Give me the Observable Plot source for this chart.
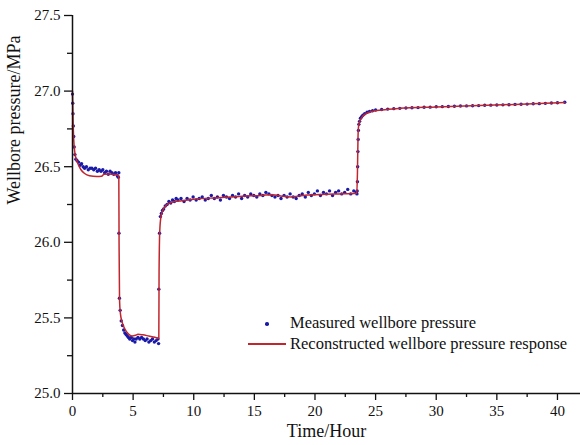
<!DOCTYPE html>
<html>
<head>
<meta charset="utf-8">
<script src="https://cdn.jsdelivr.net/npm/d3@7"></script>
<script src="https://cdn.jsdelivr.net/npm/@observablehq/plot@0.6"></script>
<style>
  html, body { margin: 0; padding: 0; background: #fff; }
  #wrap { position: relative; width: 580px; height: 445px; font-family: "Liberation Serif", "Times New Roman", serif; }
  .leg { position: absolute; font-size: 16.5px; color: #111; white-space: nowrap; line-height: 1; }
</style>
</head>
<body>
<div id="wrap"></div>
<script>
// ---- Data ----
const measTime = [
  0.00,0.02,0.04,0.07,0.10,0.14,0.20,0.28,0.38,0.50,0.62,0.75,0.88,1.00,1.15,1.30,1.45,1.60,1.75,1.90,
  2.05,2.20,2.35,2.50,2.65,2.80,2.95,3.10,3.25,3.40,3.55,3.70,3.78,3.82,
  3.83,3.87,3.93,4.02,4.12,4.22,4.32,4.42,4.52,4.62,4.72,4.85,4.95,5.05,5.15,5.25,5.40,5.55,5.70,5.85,
  6.00,6.15,6.30,6.45,6.60,6.75,6.90,7.05,7.10,
  7.12,7.18,7.25,7.33,7.42,7.52,7.65,7.80,7.95,8.10,8.25,8.40,8.55,
  8.70,8.95,9.20,9.45,9.70,9.95,10.20,10.45,10.70,10.95,11.20,11.45,11.70,11.95,12.20,12.45,12.70,12.95,
  13.20,13.45,13.70,13.95,14.20,14.45,14.70,14.95,15.20,15.45,15.70,15.95,16.20,16.45,16.70,16.95,
  17.20,17.45,17.70,17.95,18.20,18.45,18.70,18.95,19.20,19.45,19.70,19.95,20.20,20.45,20.70,20.95,
  21.20,21.45,21.70,21.95,22.20,22.45,22.70,22.95,23.20,23.40,
  23.46,23.48,23.50,23.52,23.54,23.56,23.58,23.62,23.68,23.75,23.85,23.95,24.10,24.30,24.50,24.75,25.00,
  25.50,26.00,26.50,27.00,27.50,28.00,28.50,29.00,29.50,30.00,30.50,31.00,31.50,32.00,32.50,33.00,
  33.50,34.00,34.50,35.00,35.50,36.00,36.50,37.00,37.50,38.00,38.50,39.00,39.50,40.00,40.60
];
const measPressure = [
  26.98,26.92,26.85,26.77,26.70,26.63,26.58,26.55,26.54,26.53,26.51,26.52,26.50,26.49,26.50,26.48,26.49,26.49,26.48,26.49,
  26.47,26.48,26.47,26.48,26.46,26.47,26.45,26.47,26.46,26.45,26.46,26.44,26.43,26.46,
  26.06,25.63,25.55,25.48,25.45,25.42,25.40,25.39,25.38,25.37,25.36,25.37,25.35,25.36,25.34,25.36,25.37,25.36,25.37,25.36,
  25.35,25.36,25.34,25.35,25.36,25.34,25.35,25.36,25.33,
  25.69,26.06,26.17,26.19,26.21,26.22,26.24,26.25,26.27,26.26,26.28,26.27,26.29,
  26.28,26.29,26.27,26.29,26.28,26.30,26.28,26.29,26.30,26.28,26.29,26.31,26.29,26.30,26.28,26.31,26.30,26.29,
  26.31,26.30,26.32,26.29,26.31,26.30,26.32,26.31,26.30,26.32,26.31,26.33,26.32,26.31,26.30,26.31,
  26.29,26.31,26.30,26.32,26.30,26.29,26.31,26.32,26.30,26.33,26.31,26.32,26.34,26.31,26.33,26.32,
  26.34,26.31,26.33,26.34,26.32,26.33,26.35,26.32,26.34,26.33,
  26.32,26.34,26.40,26.50,26.60,26.68,26.74,26.78,26.80,26.82,26.83,26.84,26.85,26.86,26.865,26.87,26.875,
  26.878,26.881,26.884,26.886,26.888,26.890,26.891,26.893,26.894,26.896,26.897,26.898,26.900,26.901,26.902,26.903,
  26.904,26.906,26.907,26.908,26.909,26.910,26.912,26.913,26.914,26.916,26.917,26.919,26.921,26.923,26.926
];
const fitTime = [
  0,0.05,0.1,0.2,0.35,0.5,0.7,1.0,1.4,2.0,2.4,2.6,3.0,3.5,3.82,
  3.84,3.88,3.95,4.1,4.3,4.6,4.9,5.2,5.4,5.8,6.3,6.8,7.12,
  7.14,7.2,7.3,7.5,7.8,8.2,9,10,12,14,15.5,16.5,17.3,18,19,20,21,22,23.45,
  23.5,23.55,23.6,23.7,23.9,24.2,24.7,25.5,27,30,33.5,37,40.6
];
const fitPressure = [
  27.00,26.80,26.68,26.59,26.54,26.51,26.48,26.455,26.44,26.435,26.437,26.45,26.452,26.448,26.44,
  26.00,25.62,25.53,25.47,25.43,25.395,25.38,25.385,25.392,25.388,25.38,25.372,25.365,
  25.80,26.08,26.17,26.22,26.25,26.265,26.275,26.285,26.295,26.305,26.31,26.315,26.305,26.30,26.31,26.315,26.318,26.32,26.325,
  26.45,26.70,26.77,26.80,26.83,26.85,26.865,26.875,26.886,26.895,26.904,26.913,26.925
];
const xMajorTicks = [0, 5, 10, 15, 20, 25, 30, 35, 40];
const xMinorTicks = [2.5, 7.5, 12.5, 17.5, 22.5, 27.5, 32.5, 37.5];
const yMajorTicks = [25.0, 25.5, 26.0, 26.5, 27.0, 27.5];
const yMinorTicks = [25.25, 25.75, 26.25, 26.75, 27.25];
const xLabel = "Time/Hour";
const yLabel = "Wellbore pressure/MPa";
const seriesNames = ["Measured wellbore pressure", "Reconstructed wellbore pressure response"];

const measured = measTime.map((t, i) => ({t, p: measPressure[i]}));
const fitted = fitTime.map((t, i) => ({t, p: fitPressure[i]}));

const dotColor = "#1a1aa8";
const lineColor = "#c0262d";

const chart = Plot.plot({
  width: 580,
  height: 445,
  marginLeft: 72,
  marginRight: 0,
  marginTop: 15,
  marginBottom: 52,
  style: { fontFamily: "Liberation Serif, Times New Roman, serif", fontSize: "15px", color: "#111", background: "#fff" },
  x: { domain: [0, 41.9] },
  y: { domain: [25, 27.5] },
  marks: [
    Plot.axisX({ ticks: xMajorTicks, tickSize: 7, tickPadding: 5, tickFormat: d => String(d), label: null, fontSize: 15, strokeWidth: 1.3 }),
    Plot.axisX({ ticks: xMinorTicks, tickSize: 4, tickFormat: () => "", label: null, strokeWidth: 1.3 }),
    Plot.axisY({ ticks: yMajorTicks, tickSize: 8, tickPadding: 4, tickFormat: d => d.toFixed(1), label: null, fontSize: 15, strokeWidth: 1.3 }),
    Plot.axisY({ ticks: yMinorTicks, tickSize: 5, tickFormat: () => "", label: null, strokeWidth: 1.3 }),
    Plot.dot(measured, { x: "t", y: "p", r: 1.7, fill: dotColor, stroke: null }),
    Plot.line(fitted, { x: "t", y: "p", stroke: lineColor, strokeWidth: 1.5, curve: "monotone-x" }),
    Plot.ruleX([0], { stroke: "#111", strokeWidth: 1.5 }),
    Plot.ruleY([25], { stroke: "#111", strokeWidth: 1.5 }),
    Plot.text([yLabel], { frameAnchor: "left", rotate: -90, dx: -58, fontSize: 18, fill: "#111" }),
    Plot.text([xLabel], { frameAnchor: "bottom", dy: 43, fontSize: 18, fill: "#111" })
  ]
});

const wrap = document.getElementById("wrap");
wrap.appendChild(chart);

// Legend (inside the plot area)
const leg1 = document.createElement("div");
leg1.className = "leg";
leg1.style.left = "290px"; leg1.style.top = "315px";
leg1.textContent = seriesNames[0];
const dot = document.createElement("div");
dot.style.cssText = `position:absolute;left:265px;top:322px;width:3.5px;height:3.5px;border-radius:50%;background:${dotColor}`;
const leg2 = document.createElement("div");
leg2.className = "leg";
leg2.style.left = "290px"; leg2.style.top = "335.5px";
leg2.textContent = seriesNames[1];
const ln = document.createElement("div");
ln.style.cssText = `position:absolute;left:248px;top:343px;width:38px;height:1.5px;background:${lineColor}`;
wrap.append(dot, leg1, ln, leg2);
</script>
</body>
</html>
